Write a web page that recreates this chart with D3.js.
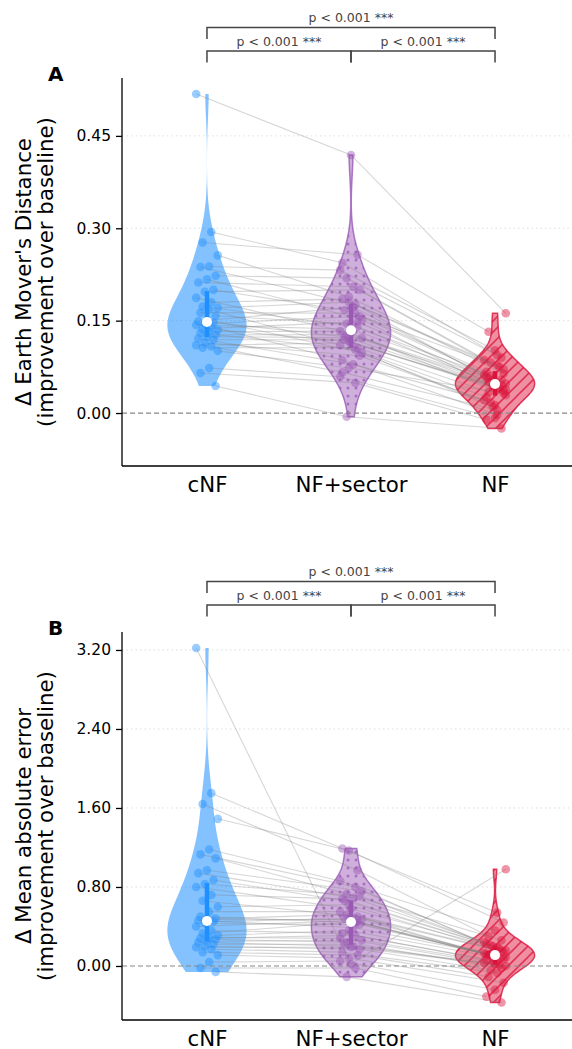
<!DOCTYPE html>
<html lang="en">
<head>
<meta charset="UTF-8">
<title>Paired violins - EMD / MAE</title>
<style>
  body { margin: 0; background: #fff; }
  svg, svg text { font-family: "DejaVu Sans", sans-serif; }
  .grid line { stroke: #dedede; stroke-dasharray: 1.5,3; stroke-width: 1; }
  .zero { stroke: #888; stroke-dasharray: 5,3; stroke-width: 1.2; }
  .pair { fill: none; stroke: #808080; stroke-opacity: 0.32; stroke-width: 1.1; }
  .axis path, .axis line { stroke: #000; stroke-width: 1.3; }
  .axis text { fill: #000; font-family: "DejaVu Sans", sans-serif; }
  .bracket { fill: none; stroke: #444; stroke-width: 1.5; }
  .ptext { font-size: 12.5px; fill: #444; text-anchor: middle; }
</style>
</head>
<body>
<svg id="chart" width="572" height="1049"></svg>
<script src="https://d3js.org/d3.v7.min.js"></script>
<script>
const groups = ['cNF', 'NF+sector', 'NF'];
const colors = ['#1E90FF', '#9B59B6', '#DC143C'];

// panel A: change in Earth Mover's Distance, one entry per subject (same order in every array)
const emdCNF = [0.518,0.294,0.277,0.256,0.238,0.237,0.223,0.217,0.212,0.200,0.197,0.187,0.180,0.173,0.171,0.168,0.163,0.158,0.152,0.149,0.147,0.145,0.143,0.140,0.137,0.135,0.132,0.130,0.127,0.124,0.121,0.119,0.114,0.110,0.108,0.106,0.101,0.073,0.065,0.044];
const emdSector = [0.419,0.244,0.257,0.189,0.232,0.176,0.219,0.152,0.205,0.167,0.200,0.130,0.185,0.140,0.180,0.110,0.162,0.145,0.098,0.172,0.124,0.157,0.136,0.086,0.148,0.116,0.133,0.103,0.127,0.122,0.079,0.119,0.093,0.114,0.066,0.106,0.073,0.059,0.049,-0.006];
const emdNF = [0.162,0.094,0.132,0.064,0.102,0.058,0.090,0.043,0.086,0.075,0.082,0.029,0.078,0.050,0.071,0.013,0.067,0.054,0.010,0.062,0.041,0.060,0.048,-0.003,0.056,0.036,0.052,0.026,0.046,0.045,0.021,0.040,0.017,0.038,0.005,0.034,0.032,-0.008,-0.011,-0.025];
const emdTicks = [0, 0.15, 0.30, 0.45];

// panel B: change in mean absolute error
const maeCNF = [3.22,1.75,1.64,1.49,1.18,1.13,1.09,0.97,0.94,0.87,0.83,0.80,0.72,0.66,0.60,0.55,0.50,0.48,0.47,0.46,0.45,0.43,0.40,0.36,0.33,0.31,0.29,0.28,0.27,0.25,0.24,0.22,0.20,0.19,0.17,0.14,0.11,0.04,-0.02,-0.06];
const maeSector = [0.02,1.19,0.97,1.17,0.86,0.80,0.73,0.76,0.69,0.66,0.71,0.58,0.68,0.50,0.62,0.55,0.44,0.52,0.47,0.39,0.48,0.42,0.46,0.33,0.45,0.36,0.28,0.31,0.24,0.26,0.20,0.22,0.17,0.19,0.14,0.11,0.08,0.05,-0.02,-0.11];
const maeNF = [0.98,0.54,0.30,0.44,0.36,0.22,0.26,0.20,0.24,0.18,0.21,0.16,0.19,0.11,0.14,0.17,0.12,0.15,0.10,0.13,0.08,0.12,0.09,0.05,0.11,0.07,0.02,0.06,-0.02,0.04,0.03,0.01,-0.04,0.00,-0.07,-0.11,-0.17,-0.24,-0.31,-0.37];
const maeTicks = [0, 0.8, 1.6, 2.4, 3.2];

const pLabels = ['p < 0.001 ***', 'p < 0.001 ***', 'p < 0.001 ***'];

const svg = d3.select('#chart');

// hatch patterns
const defs = svg.append('defs');
const dots = defs.append('pattern').attr('id', 'hatch-dots')
    .attr('patternUnits', 'userSpaceOnUse').attr('width', 8).attr('height', 8);
dots.append('circle').attr('cx', 4).attr('cy', 4).attr('r', 1.5)
    .attr('fill', colors[1]).attr('fill-opacity', 0.75);
const stripes = defs.append('pattern').attr('id', 'hatch-stripes')
    .attr('patternUnits', 'userSpaceOnUse').attr('width', 11).attr('height', 11);
stripes.append('path').attr('d', 'M-2,2 l4,-4 M0,11 l11,-11 M9,13 l4,-4')
    .attr('stroke', colors[2]).attr('stroke-opacity', 0.75).attr('stroke-width', 1.6);

const fills = [null, 'url(#hatch-dots)', 'url(#hatch-stripes)'];

const x = d3.scaleLinear().domain([-0.59, 2.59]).range([122, 580]);
const unit = x(1) - x(0);

// deterministic jitter so the points do not sit on one vertical line
const jitter = (i, g) => ((((i * 7 + g * 5) % 11) / 10) - 0.5) * 0.15 * unit;

function kde(values, lo, hi) {
    const n = values.length;
    const bw = d3.deviation(values) * Math.pow(n, -0.2);
    return d3.range(100).map(k => {
        const p = lo + (hi - lo) * k / 99;
        return [p, d3.sum(values, v => Math.exp(-0.5 * ((p - v) / bw) ** 2))];
    });
}

function drawPanel(cfg) {
    const g = svg.append('g');
    const y = d3.scaleLinear().domain(cfg.domain).range([cfg.top + 388, cfg.top]);

    // grid
    g.append('g').attr('class', 'grid')
        .selectAll('line').data(cfg.ticks.filter(t => t !== 0)).enter().append('line')
        .attr('x1', 122).attr('x2', 572)
        .attr('y1', d => y(d)).attr('y2', d => y(d));

    // violins
    cfg.series.forEach((vals, gi) => {
        const cx = x(gi);
        const dens = kde(vals, d3.min(vals), d3.max(vals));
        const maxD = d3.max(dens, d => d[1]);
        const hw = 0.275 * unit;
        const area = d3.area()
            .x0(d => cx - d[1] / maxD * hw)
            .x1(d => cx + d[1] / maxD * hw)
            .y(d => y(d[0]));
        g.append('path').attr('d', area(dens))
            .attr('fill', colors[gi]).attr('fill-opacity', gi === 0 ? 0.55 : 0.48)
            .attr('stroke', gi === 0 ? 'none' : colors[gi])
            .attr('stroke-opacity', 0.8).attr('stroke-width', 1.5);
        if (fills[gi]) {
            g.append('path').attr('d', area(dens)).attr('fill', fills[gi]).attr('stroke', 'none');
        }
    });

    // zero line
    g.append('line').attr('class', 'zero')
        .attr('x1', 122).attr('x2', 572).attr('y1', y(0)).attr('y2', y(0));

    // paired lines
    const n = cfg.series[0].length;
    const line = d3.line();
    g.append('g').selectAll('path').data(d3.range(n)).enter().append('path')
        .attr('class', 'pair')
        .attr('d', i => line(cfg.series.map((vals, gi) => [x(gi) + jitter(i, gi), y(vals[i])])));

    // points
    cfg.series.forEach((vals, gi) => {
        g.append('g').selectAll('circle').data(vals).enter().append('circle')
            .attr('cx', (d, i) => x(gi) + jitter(i, gi))
            .attr('cy', d => y(d))
            .attr('r', 4.3)
            .attr('fill', colors[gi]).attr('fill-opacity', 0.45);
    });

    // IQR bar + median
    cfg.series.forEach((vals, gi) => {
        const s = vals.slice().sort(d3.ascending);
        const q1 = d3.quantileSorted(s, 0.25), q3 = d3.quantileSorted(s, 0.75), med = d3.quantileSorted(s, 0.5);
        g.append('line').attr('x1', x(gi)).attr('x2', x(gi))
            .attr('y1', y(q1)).attr('y2', y(q3))
            .attr('stroke', colors[gi]).attr('stroke-width', 4.5);
        g.append('circle').attr('cx', x(gi)).attr('cy', y(med)).attr('r', 5)
            .attr('fill', '#fff');
    });

    // axes
    const yAxis = d3.axisLeft(y).tickValues(cfg.ticks).tickFormat(d3.format('.2f')).tickSize(6).tickPadding(5);
    const ya = g.append('g').attr('class', 'axis').attr('transform', 'translate(122,0)').call(yAxis);
    ya.attr('font-family', null).attr('font-size', null);
    ya.selectAll('text').style('font-size', '15.5px');
    ya.select('.domain').attr('d', `M0,${cfg.top}V${cfg.top + 388}`);

    const xAxis = d3.axisBottom(x).tickValues([0, 1, 2]).tickFormat(i => groups[i]).tickSize(0).tickPadding(11);
    const xa = g.append('g').attr('class', 'axis').attr('transform', `translate(0,${cfg.top + 388})`).call(xAxis);
    xa.attr('font-family', null).attr('font-size', null);
    xa.selectAll('text').style('font-size', '21.3px');
    xa.select('.domain').attr('d', 'M122,0H572');

    // y label
    const yl = g.append('text')
        .attr('transform', `translate(31,${cfg.top + 194}) rotate(-90)`)
        .attr('text-anchor', 'middle').style('font-size', '21.3px').attr('fill', '#000');
    yl.append('tspan').attr('x', 0).attr('dy', 0).text(cfg.label);
    yl.append('tspan').attr('x', 0).attr('dy', 22).text('(improvement over baseline)');

    // panel letter
    g.append('text').attr('x', 48).attr('y', cfg.top + 3)
        .style('font-size', '20px').style('font-weight', 'bold').text(cfg.letter);

    // significance brackets
    const b = cfg.top - 77;
    const br = (x1, x2, yl, yt) => `M${x1},${yt}V${yl}H${x2}V${yt}`;
    g.append('path').attr('class', 'bracket').attr('d', br(x(0), x(2), b + 26.5, b + 38));
    g.append('path').attr('class', 'bracket').attr('d', br(x(0), x(1), b + 50, b + 61.5));
    g.append('path').attr('class', 'bracket').attr('d', br(x(1), x(2), b + 50, b + 61.5));
    g.append('text').attr('class', 'ptext').attr('x', x(1)).attr('y', b + 21).text(pLabels[0]);
    g.append('text').attr('class', 'ptext').attr('x', x(0.5)).attr('y', b + 45).text(pLabels[1]);
    g.append('text').attr('class', 'ptext').attr('x', x(1.5)).attr('y', b + 45).text(pLabels[2]);
}

drawPanel({
    top: 78, domain: [-0.086, 0.544], ticks: emdTicks,
    series: [emdCNF, emdSector, emdNF],
    label: "\u0394 Earth Mover's Distance", letter: 'A'
});
drawPanel({
    top: 632, domain: [-0.547, 3.382], ticks: maeTicks,
    series: [maeCNF, maeSector, maeNF],
    label: '\u0394 Mean absolute error', letter: 'B'
});
</script>
</body>
</html>
